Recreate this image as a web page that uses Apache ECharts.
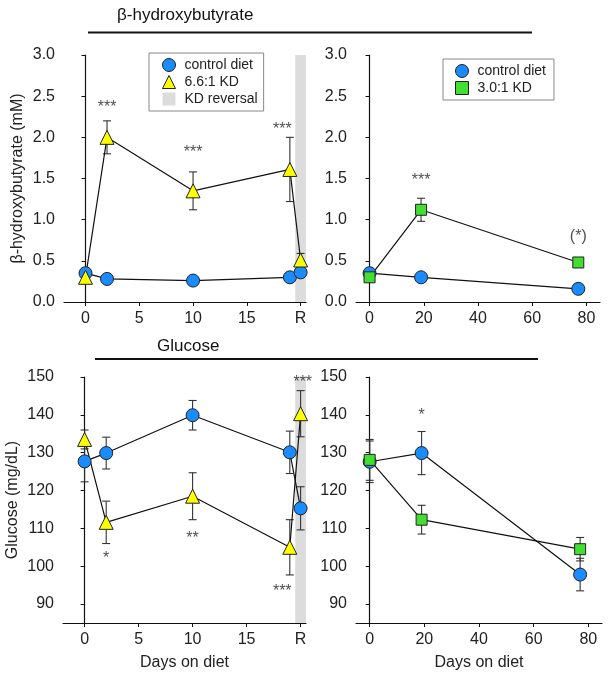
<!DOCTYPE html>
<html>
<head>
<meta charset="utf-8">
<script src="https://cdn.jsdelivr.net/npm/echarts@6/dist/echarts.min.js"></script>
<style>
html,body{margin:0;padding:0;background:#fff;}
#chart{width:609px;height:676px;}
</style>
</head>
<body>
<div id="chart"></div>
<script>
// ---- Data ----
const daysL = [0, 2, 10, 19, 20];          // 20 = "R" (KD reversal)
const daysR = [0, 19, 77];
const xTicksL = [0, 5, 10, 15, 20];
const xTickLabelsL = ['0', '5', '10', '15', 'R'];
const xTicksR = [0, 20, 40, 60, 80];
const yTicksBhb = [0, 0.5, 1.0, 1.5, 2.0, 2.5, 3.0];
const yTicksGlu = [90, 100, 110, 120, 130, 140, 150];

const bhbCtrlL = [0.35, 0.28, 0.26, 0.30, 0.36];
const bhbCtrlLErr = [0.02, 0.01, 0.01, 0.01, 0.02];
const bhbKd66 = [0.30, 2.00, 1.35, 1.61, 0.51];
const bhbKd66Err = [0.05, 0.20, 0.23, 0.39, 0.08];

const bhbCtrlR = [0.35, 0.30, 0.16];
const bhbCtrlRErr = [0.02, 0.01, 0.01];
const bhbKd30 = [0.30, 1.12, 0.48];
const bhbKd30Err = [0.03, 0.14, 0.04];

const gluCtrlL = [127.7, 129.9, 139.9, 130.1, 115.3];
const gluCtrlLErr = [5.4, 4.2, 3.9, 5.6, 5.7];
const gluKd66 = [133.5, 111.6, 118.5, 105.0, 140.3];
const gluKd66Err = [2.5, 5.6, 6.2, 7.3, 6.1];

const gluCtrlR = [127.6, 129.9, 97.8];
const gluCtrlRErr = [5.5, 5.7, 4.3];
const gluKd30 = [128.1, 112.3, 104.5];
const gluKd30Err = [5.4, 3.8, 3.1];

const reversalBand = [19.5, 20.5];

// significance marks: [x, y, text]
const sigBhbL = [[2, 2.36, '***'], [10, 1.82, '***'], [18.3, 2.09, '***']];
const sigBhbR = [[19, 1.48, '***'], [77, 0.80, '(*)']];
const sigGluL = [[2, 102.0, '*'], [10, 107.3, '**'], [18.3, 93.4, '***'], [20.2, 148.5, '***']];
const sigGluR = [[19, 139.8, '*']];

// ---- Styles ----
const FONT = 'Liberation Sans, Arial, sans-serif';
const BLUE = '#1a8cff';
const YELLOW = '#ffff00';
const GREEN = '#44dd33';
const BAND = '#dcdcdc';

function pairs(xs, ys) { return xs.map((x, i) => [x, ys[i]]); }
function errs(xs, ys, es) { return xs.map((x, i) => [x, ys[i] - es[i], ys[i] + es[i]]); }

function errSeries(idx, xs, ys, es) {
  return {
    type: 'custom', xAxisIndex: idx, yAxisIndex: idx, z: 1, silent: true,
    data: errs(xs, ys, es),
    encode: { x: 0, y: [1, 2] },
    renderItem: function (params, api) {
      const x = api.value(0);
      const lo = api.coord([x, api.value(1)]);
      const hi = api.coord([x, api.value(2)]);
      const w = 4;
      const st = { stroke: '#333', lineWidth: 1.1 };
      return {
        type: 'group', children: [
          { type: 'line', shape: { x1: lo[0], y1: lo[1], x2: hi[0], y2: hi[1] }, style: st },
          { type: 'line', shape: { x1: lo[0] - w, y1: lo[1], x2: lo[0] + w, y2: lo[1] }, style: st },
          { type: 'line', shape: { x1: hi[0] - w, y1: hi[1], x2: hi[0] + w, y2: hi[1] }, style: st }
        ]
      };
    }
  };
}

function lineSeries(idx, name, xs, ys, symbol, size, color) {
  return {
    type: 'line', name: name, xAxisIndex: idx, yAxisIndex: idx, z: 3,
    data: pairs(xs, ys), symbol: symbol, symbolSize: size,
    lineStyle: { color: '#111', width: 1.2 },
    itemStyle: { color: color, borderColor: '#222', borderWidth: 1 },
    emphasis: { disabled: true }, animation: false
  };
}

function sigSeries(idx, arr) {
  return {
    type: 'scatter', xAxisIndex: idx, yAxisIndex: idx, z: 4, silent: true,
    symbolSize: 1, itemStyle: { color: 'rgba(0,0,0,0)' },
    data: arr.map(d => ({ value: [d[0], d[1]], label: { formatter: d[2] } })),
    label: { show: true, position: 'inside', color: '#222', fontSize: 16, fontFamily: FONT }
  };
}

function bandSeries(idx, name) {
  return {
    type: 'line', name: name, xAxisIndex: idx, yAxisIndex: idx, z: 0, data: [],
    itemStyle: { color: BAND }, silent: true,
    markArea: { silent: true, itemStyle: { color: BAND }, data: [[{ xAxis: reversalBand[0] }, { xAxis: reversalBand[1] }]] }
  };
}

const axisLine = { show: true, lineStyle: { color: '#111', width: 1.2 } };
const axisTick = { show: true, length: 4, lineStyle: { color: '#111', width: 1 } };
const labelStyle = { color: '#222', fontSize: 16, fontFamily: FONT };

function xAxis(idx, min, max, ticks, labels, name) {
  return {
    type: 'value', gridIndex: idx, min: min, max: max,
    axisLine: axisLine, splitLine: { show: false },
    axisTick: Object.assign({ customValues: ticks }, axisTick),
    axisLabel: Object.assign({
      customValues: ticks, margin: 9,
      formatter: function (v) { const i = ticks.indexOf(v); return i >= 0 ? labels[i] : ''; }
    }, labelStyle),
    name: name || '', nameLocation: 'middle', nameGap: 32,
    nameTextStyle: labelStyle
  };
}

function yAxis(idx, min, max, ticks, decimals, name, gap) {
  return {
    type: 'value', gridIndex: idx, min: min, max: max,
    axisLine: axisLine, splitLine: { show: false },
    axisTick: Object.assign({ customValues: ticks }, axisTick),
    axisLabel: Object.assign({
      customValues: ticks, margin: 9,
      formatter: function (v) { return v.toFixed(decimals); }
    }, labelStyle),
    name: name || '', nameLocation: 'middle', nameGap: gap || 40,
    nameTextStyle: labelStyle
  };
}

const chart = echarts.init(document.getElementById('chart'), null, { renderer: 'canvas' });

const gridBase = { containLabel: false, outerBoundsMode: 'none' };
const option = {
  backgroundColor: '#fff',
  animation: false,
  textStyle: { fontFamily: FONT },
  grid: [
    Object.assign({ left: 64, top: 55, width: 242, height: 247 }, gridBase),
    Object.assign({ left: 356, top: 55, width: 244, height: 247 }, gridBase),
    Object.assign({ left: 63, top: 377, width: 243, height: 246 }, gridBase),
    Object.assign({ left: 356, top: 377, width: 246, height: 246 }, gridBase)
  ],
  xAxis: [
    xAxis(0, -2, 20.5, xTicksL, xTickLabelsL),
    xAxis(1, -5, 85, xTicksR, xTicksR.map(String)),
    xAxis(2, -2, 20.5, xTicksL, xTickLabelsL, 'Days on diet'),
    xAxis(3, -5, 85, xTicksR, xTicksR.map(String), 'Days on diet')
  ],
  yAxis: [
    yAxis(0, 0, 3, yTicksBhb, 1, 'β-hydroxybutyrate (mM)', 38),
    yAxis(1, 0, 3, yTicksBhb, 1),
    yAxis(2, 85, 150, yTicksGlu, 0, 'Glucose (mg/dL)', 42),
    yAxis(3, 85, 150, yTicksGlu, 0)
  ],
  legend: [
    {
      left: 149, top: 53, width: 114, orient: 'vertical',
      backgroundColor: '#fff', borderColor: '#888', borderWidth: 1,
      padding: [5, 6, 5, 13], itemGap: 3, itemWidth: 13, itemHeight: 13,
      selectedMode: false,
      textStyle: { fontSize: 14, color: '#222', fontFamily: FONT, padding: [0, 0, 0, 4] },
      data: [
        { name: 'control diet', icon: 'circle', itemStyle: { color: BLUE, borderColor: '#222', borderWidth: 1 } },
        { name: '6.6:1 KD', icon: 'triangle', itemStyle: { color: YELLOW, borderColor: '#222', borderWidth: 1 } },
        { name: 'KD reversal', icon: 'rect', itemStyle: { color: BAND, borderWidth: 0 } }
      ]
    },
    {
      left: 443, top: 59, width: 112, orient: 'vertical',
      backgroundColor: '#fff', borderColor: '#888', borderWidth: 1,
      padding: [5, 8, 5, 12], itemGap: 3, itemWidth: 13, itemHeight: 13,
      selectedMode: false,
      textStyle: { fontSize: 14, color: '#222', fontFamily: FONT, padding: [0, 0, 0, 4] },
      data: [
        { name: 'control diet', icon: 'circle', itemStyle: { color: BLUE, borderColor: '#222', borderWidth: 1 } },
        { name: '3.0:1 KD', icon: 'rect', itemStyle: { color: GREEN, borderColor: '#222', borderWidth: 1 } }
      ]
    }
  ],
  graphic: [
    { type: 'text', left: 117, top: 7, style: { text: 'β-hydroxybutyrate', fontSize: 17, fontFamily: FONT, fill: '#111' } },
    { type: 'line', shape: { x1: 88, y1: 32.5, x2: 532, y2: 32.5 }, style: { stroke: '#111', lineWidth: 2 } },
    { type: 'text', left: 157, top: 338, style: { text: 'Glucose', fontSize: 17, fontFamily: FONT, fill: '#111' } },
    { type: 'line', shape: { x1: 95, y1: 359, x2: 538, y2: 359 }, style: { stroke: '#111', lineWidth: 2 } }
  ],
  series: [
    bandSeries(0, 'KD reversal'),
    bandSeries(2, 'KD reversal'),
    errSeries(0, daysL, bhbCtrlL, bhbCtrlLErr),
    errSeries(0, daysL, bhbKd66, bhbKd66Err),
    lineSeries(0, 'control diet', daysL, bhbCtrlL, 'circle', 13, BLUE),
    lineSeries(0, '6.6:1 KD', daysL, bhbKd66, 'triangle', 14, YELLOW),
    sigSeries(0, sigBhbL),

    errSeries(1, daysR, bhbCtrlR, bhbCtrlRErr),
    errSeries(1, daysR, bhbKd30, bhbKd30Err),
    lineSeries(1, 'control diet', daysR, bhbCtrlR, 'circle', 13, BLUE),
    lineSeries(1, '3.0:1 KD', daysR, bhbKd30, 'rect', 11, GREEN),
    sigSeries(1, sigBhbR),

    errSeries(2, daysL, gluCtrlL, gluCtrlLErr),
    errSeries(2, daysL, gluKd66, gluKd66Err),
    lineSeries(2, 'control diet', daysL, gluCtrlL, 'circle', 13, BLUE),
    lineSeries(2, '6.6:1 KD', daysL, gluKd66, 'triangle', 14, YELLOW),
    sigSeries(2, sigGluL),

    errSeries(3, daysR, gluCtrlR, gluCtrlRErr),
    errSeries(3, daysR, gluKd30, gluKd30Err),
    lineSeries(3, 'control diet', daysR, gluCtrlR, 'circle', 13, BLUE),
    lineSeries(3, '3.0:1 KD', daysR, gluKd30, 'rect', 11, GREEN),
    sigSeries(3, sigGluR)
  ]
};
chart.setOption(option);
</script>
</body>
</html>
